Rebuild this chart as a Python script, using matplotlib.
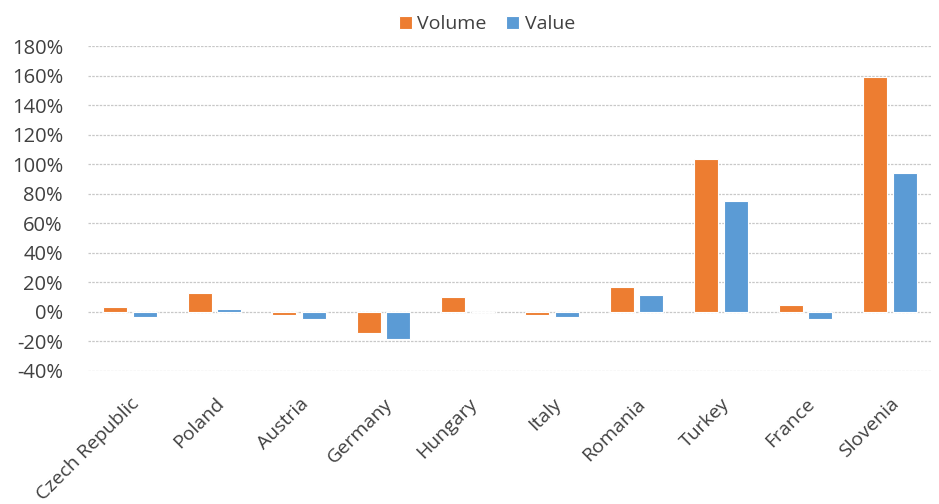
import matplotlib.pyplot as plt
import numpy as np
from matplotlib.ticker import FuncFormatter

countries = ["Czech Republic", "Poland", "Austria", "Germany", "Hungary",
             "Italy", "Romania", "Turkey", "France", "Slovenia"]
volume = [3.3, 12.6, -2.0, -14.4, 9.9, -2.0, 16.7, 103.3, 4.5, 159.3]
value = [-3.6, 1.8, -5.0, -18.4, 0.0, -3.6, 11.3, 74.8, -5.0, 93.8]

orange = "#ED7D31"
blue = "#5B9BD5"

plt.rcParams['font.family'] = ['Open Sans', 'DejaVu Sans']

fig = plt.figure(figsize=(9.39, 5.04), dpi=100)
ax = fig.add_axes([88 / 939, 1 - 371 / 504, (932 - 88) / 939, (371 - 46) / 504])

x = np.arange(len(countries))
w = 0.285
off = 0.176
ax.bar(x - off, volume, w, color=orange, edgecolor="white", linewidth=0.8, label="Volume", zorder=3)
ax.bar(x + off, value, w, color=blue, edgecolor="white", linewidth=0.8, label="Value", zorder=3)

ax.set_xlim(-0.5, 9.5)
ax.set_ylim(-40, 180)
ax.set_yticks(np.arange(-40, 181, 20))
ax.yaxis.set_major_formatter(FuncFormatter(lambda v, p: f"{v:.0f}%"))
ax.grid(axis="y", color="#c8c8c8", linestyle=(0, (2, 1)), linewidth=0.9, zorder=0)

for s in ax.spines.values():
    s.set_visible(False)

ax.set_xticks(x)
ax.set_xticklabels(countries, rotation=45, ha="right", rotation_mode="anchor",
                   fontsize=14, color="#404040")
ax.tick_params(axis="x", length=0, pad=17)
ax.tick_params(axis="y", length=0, pad=18, labelsize=14.5, labelcolor="#404040")

fig.legend(loc="center", bbox_to_anchor=(487 / 939, 1 - 24 / 504), ncol=2, frameon=False,
           fontsize=14, handlelength=0.65, handleheight=0.65, handletextpad=0.3,
           columnspacing=1.0, labelcolor="#404040")

fig.savefig("out.png", dpi=100)
